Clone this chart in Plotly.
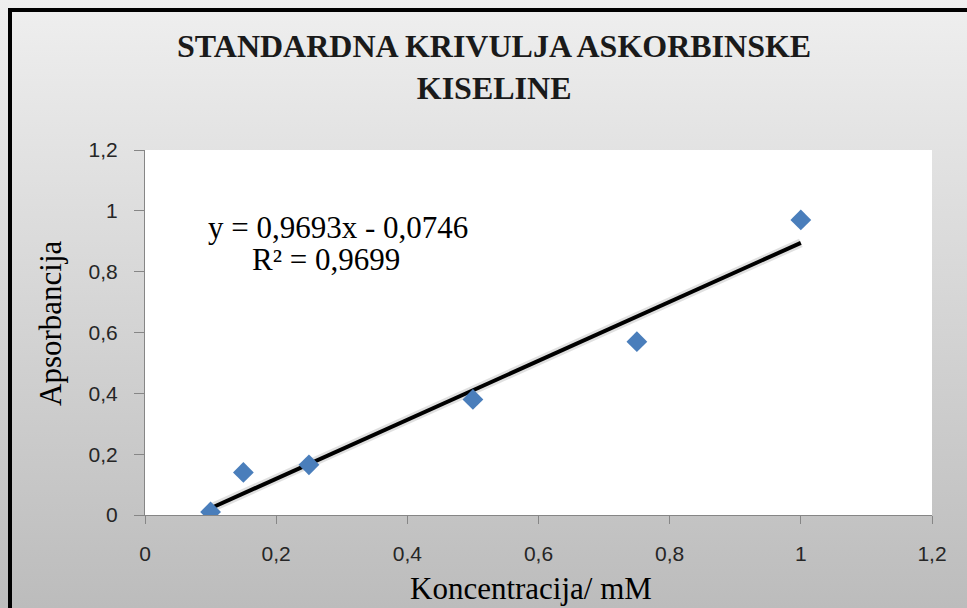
import base64
import plotly.graph_objects as go

# ---- data ----
concentration = [0.1, 0.15, 0.25, 0.5, 0.75, 1.0]
absorbance = [0.01, 0.14, 0.165, 0.38, 0.57, 0.97]
slope = 0.9693
intercept = -0.0746
r_squared = 0.9699
x_ticks = [0, 0.2, 0.4, 0.6, 0.8, 1.0, 1.2]
y_ticks = [0, 0.2, 0.4, 0.6, 0.8, 1.0, 1.2]
title_text = "STANDARDNA KRIVULJA ASKORBINSKE<br>KISELINE"
x_title = "Koncentracija/ mM"
y_title = "Apsorbancija"

# ---- layout geometry ----
W, H = 967, 608
L, R, T, B = 145, 35, 150, 93
PW, PH = W - L - R, H - T - B


def px(x):
    return (x - L) / PW


def py(y):
    return (H - B - y) / PH


fit_x = [min(concentration), max(concentration)]
fit_y = [slope * v + intercept for v in fit_x]

fig = go.Figure()
fig.add_trace(go.Scatter(
    x=fit_x, y=fit_y, mode="lines",
    line=dict(color="rgba(0,0,0,0.12)", width=9), hoverinfo="skip", showlegend=False))
fig.add_trace(go.Scatter(
    x=fit_x, y=fit_y, mode="lines",
    line=dict(color="black", width=4), hoverinfo="skip", showlegend=False))
fig.add_trace(go.Scatter(
    x=concentration, y=absorbance, mode="markers",
    marker=dict(symbol="diamond", size=16, color="#4a7ebb", line=dict(width=0)),
    showlegend=False))

svg = ('<svg xmlns="http://www.w3.org/2000/svg" width="100" height="100" preserveAspectRatio="none">'
       '<defs><linearGradient id="g" x1="0" y1="0" x2="0" y2="1">'
       '<stop offset="0" stop-color="#efefef"/><stop offset="1" stop-color="#bcbcbc"/>'
       '</linearGradient></defs><rect width="100" height="100" fill="url(#g)"/></svg>')
src = "data:image/svg+xml;base64," + base64.b64encode(svg.encode()).decode()

tick_font = dict(family="Liberation Sans, Arial, sans-serif", size=21, color="#262626")
serif = "Liberation Serif, Times New Roman, serif"

fig.update_layout(
    width=W, height=H,
    margin=dict(l=L, r=R, t=T, b=B, pad=0),
    paper_bgcolor="#d8d8d8",
    plot_bgcolor="white",
    separators=", ",
    images=[dict(source=src, xref="paper", yref="paper", x=px(0), y=py(0),
                 sizex=px(W) - px(0), sizey=py(0) - py(H), sizing="stretch",
                 xanchor="left", yanchor="top", layer="below")],
    shapes=[
        dict(type="rect", xref="paper", yref="paper", x0=0, x1=1, y0=0, y1=1,
             fillcolor="white", line=dict(width=0), layer="below"),
        dict(type="rect", xref="paper", yref="paper", x0=px(10), x1=px(990),
             y0=py(10), y1=py(640), line=dict(color="black", width=4),
             fillcolor="rgba(0,0,0,0)", layer="above"),
    ],
    xaxis=dict(range=[0, 1.2], tickvals=x_ticks, showgrid=False, zeroline=False,
               showline=True, linecolor="#868686", linewidth=1,
               ticks="outside", ticklen=8, tickcolor="#868686",
               tickfont=tick_font, ticklabelstandoff=12),
    yaxis=dict(range=[0, 1.2], tickvals=y_ticks, showgrid=False, zeroline=False,
               showline=True, linecolor="#868686", linewidth=1,
               ticks="outside", ticklen=10, tickcolor="#868686",
               tickfont=tick_font, ticklabelstandoff=12),
    annotations=[
        dict(text="<b>" + title_text + "</b>", xref="paper", yref="paper",
             x=px(494), y=py(67), xanchor="center", yanchor="middle",
             showarrow=False, font=dict(family=serif, size=32, color="#1a1a1a")),
        dict(text=f"y = {str(slope).replace('.', ',')}x - {str(-intercept).replace('.', ',')}",
             xref="paper", yref="paper", x=px(338), y=py(227),
             xanchor="center", yanchor="middle", showarrow=False,
             font=dict(family=serif, size=31, color="black")),
        dict(text=f"R² = {str(r_squared).replace('.', ',')}",
             xref="paper", yref="paper", x=px(326), y=py(259),
             xanchor="center", yanchor="middle", showarrow=False,
             font=dict(family=serif, size=31, color="black")),
        dict(text=x_title, xref="paper", yref="paper", x=px(531), y=py(588),
             xanchor="center", yanchor="middle", showarrow=False,
             font=dict(family=serif, size=31, color="black")),
        dict(text=y_title, xref="paper", yref="paper", x=px(50), y=py(323),
             xanchor="center", yanchor="middle", textangle=-90, showarrow=False,
             font=dict(family=serif, size=31, color="black")),
    ],
)

fig.write_html("out.html", config={"displayModeBar": False},
               post_script="document.body.style.margin='0';document.body.style.overflow='hidden';")
